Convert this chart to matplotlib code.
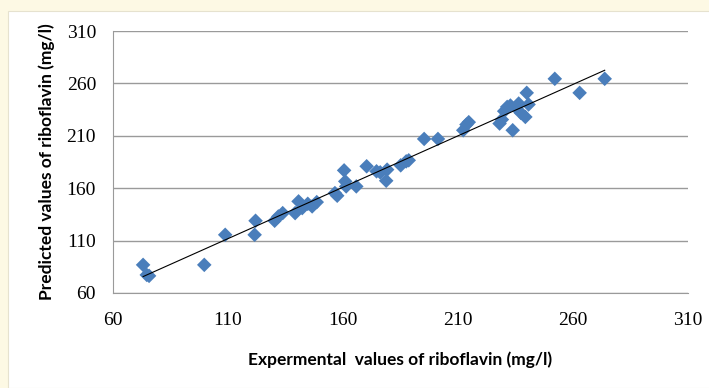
import numpy as np
import matplotlib.pyplot as plt
from matplotlib.patches import Rectangle

experimental = [73.2, 74.8, 75.8, 99.8, 108.9, 122.1, 121.7, 130.4, 132.0, 133.9,
                139.3, 140.8, 142.4, 144.8, 146.7, 148.7, 156.6, 157.6, 160.6, 161.1,
                161.5, 165.9, 170.4, 174.7, 176.3, 178.9, 179.3, 185.2, 187.6, 188.7,
                195.4, 201.4, 212.4, 213.8, 214.8, 228.2, 229.2, 230.2, 231.5, 232.9,
                233.9, 235.5, 236.5, 237.4, 239.4, 240.0, 240.8, 252.2, 263.0, 273.9]
predicted = [86.8, 77.2, 76.3, 86.8, 115.5, 128.9, 115.5, 128.9, 133.0, 136.2,
             136.2, 147.4, 141.0, 145.1, 142.6, 146.7, 155.3, 152.8, 177.0, 166.5,
             161.7, 161.7, 180.9, 176.1, 175.1, 167.1, 177.7, 181.8, 185.6, 186.6,
             207.0, 207.0, 215.3, 220.7, 223.0, 221.7, 225.5, 233.5, 237.6, 238.9,
             215.3, 236.6, 240.8, 231.9, 228.0, 251.0, 239.9, 264.4, 251.0, 264.4]
ticks = [60, 110, 160, 210, 260, 310]

x = np.array(experimental)
y = np.array(predicted)
coef = np.polyfit(x, y, 1)

fig = plt.figure(figsize=(7.09, 3.88), dpi=100)
fig.patch.set_facecolor("#fdf9e4")
fig.patches.append(Rectangle((8 / 709, 0), 1, 1 - 11 / 388, transform=fig.transFigure,
                             facecolor="white", edgecolor="#e6e2cf", lw=0.8, zorder=-10))

ax = fig.add_axes([0.159, 0.245, 0.811, 0.675])
ax.set_facecolor("none")
ax.scatter(x, y, marker="D", s=55, color="#4a7ebb", edgecolors="none", zorder=3)
xs = np.array([x.min(), x.max()])
ax.plot(xs, coef[0] * xs + coef[1], color="black", lw=0.8, zorder=4)

ax.set_xlim(60, 310)
ax.set_ylim(60, 310)
ax.set_xticks(ticks)
ax.set_yticks(ticks)
ax.tick_params(length=0, labelsize=14)
ax.tick_params(axis="x", pad=14)
ax.tick_params(axis="y", pad=12)
for lab in ax.get_xticklabels() + ax.get_yticklabels():
    lab.set_family("Liberation Serif")
ax.yaxis.grid(True, color="#9a9a9a", lw=1)
ax.set_axisbelow(True)
for s in ["top", "right"]:
    ax.spines[s].set_visible(False)
ax.spines["left"].set_color("#9a9a9a")
ax.spines["bottom"].set_color("#9a9a9a")

ax.set_xlabel("Expermental  values of riboflavin (mg/l)", family="Lato",
              fontweight="bold", fontsize=12.5, labelpad=16)
ax.set_ylabel("Predicted values of riboflavin (mg/l)", family="Lato",
              fontweight="bold", fontsize=12.5, labelpad=8)

fig.savefig("out.png")
